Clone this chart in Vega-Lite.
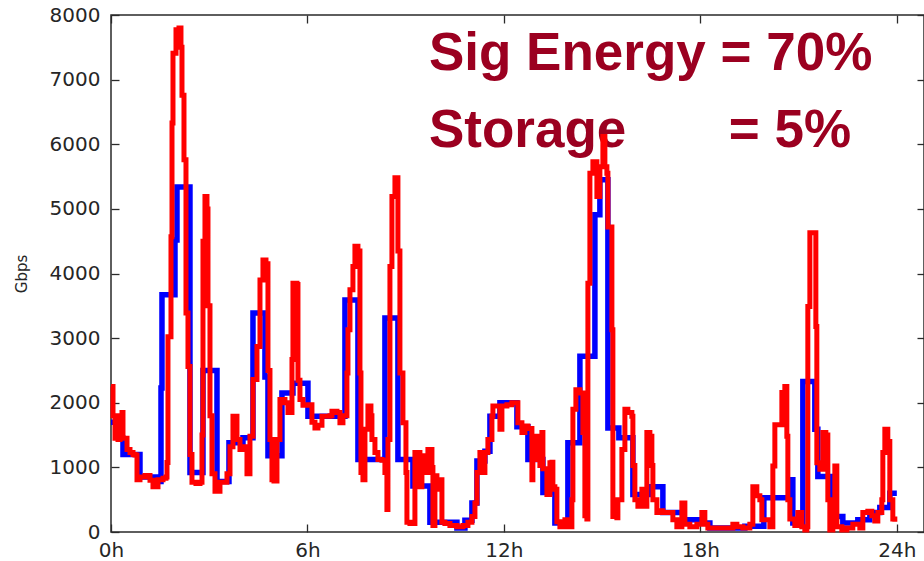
{
  "$schema": "https://vega.github.io/schema/vega-lite/v6.json",
  "width": 813,
  "height": 517,
  "autosize": {"type": "none"},
  "padding": {"left": 111, "top": 15, "right": 0, "bottom": 29},
  "background": "white",
  "config": {
    "view": {"stroke": "#2a2a2a", "strokeWidth": 1.5},
    "axis": {
      "grid": false,
      "domain": false,
      "tickColor": "#2a2a2a",
      "tickWidth": 1.3,
      "labelFont": "DejaVu Sans",
      "labelFontSize": 20,
      "labelColor": "#262626",
      "labelFlush": false,
      "labelOverlap": false,
      "titleFont": "DejaVu Sans",
      "titleFontSize": 15,
      "titleFontWeight": "normal",
      "titleColor": "#262626"
    }
  },
  "datasets": {
    "blue": [
      {"hour": 0, "gbps": 1700}, {"hour": 0.244, "gbps": 1450}, {"hour": 0.366, "gbps": 1200},
      {"hour": 0.885, "gbps": 850}, {"hour": 1.496, "gbps": 780}, {"hour": 1.527, "gbps": 2230},
      {"hour": 1.557, "gbps": 3670}, {"hour": 1.954, "gbps": 4520}, {"hour": 2.015, "gbps": 5340},
      {"hour": 2.412, "gbps": 920}, {"hour": 2.809, "gbps": 2500}, {"hour": 3.237, "gbps": 780},
      {"hour": 3.603, "gbps": 1380}, {"hour": 4.031, "gbps": 1460}, {"hour": 4.336, "gbps": 3390},
      {"hour": 4.702, "gbps": 2400}, {"hour": 4.794, "gbps": 1180}, {"hour": 5.221, "gbps": 2150},
      {"hour": 5.557, "gbps": 2300}, {"hour": 6.015, "gbps": 1790}, {"hour": 7.145, "gbps": 3590},
      {"hour": 7.542, "gbps": 1120}, {"hour": 8.366, "gbps": 3310}, {"hour": 8.763, "gbps": 1120},
      {"hour": 9.221, "gbps": 710}, {"hour": 9.74, "gbps": 150}, {"hour": 10.565, "gbps": 60},
      {"hour": 10.809, "gbps": 180}, {"hour": 11.023, "gbps": 450}, {"hour": 11.176, "gbps": 1100},
      {"hour": 11.42, "gbps": 1250}, {"hour": 11.573, "gbps": 1790}, {"hour": 11.878, "gbps": 2000},
      {"hour": 12.397, "gbps": 1630}, {"hour": 12.733, "gbps": 1120}, {"hour": 13.191, "gbps": 610},
      {"hour": 13.557, "gbps": 140}, {"hour": 13.954, "gbps": 1380}, {"hour": 14.321, "gbps": 2720},
      {"hour": 14.779, "gbps": 4910}, {"hour": 14.931, "gbps": 5450}, {"hour": 15.176, "gbps": 1610},
      {"hour": 15.511, "gbps": 1460}, {"hour": 15.939, "gbps": 580}, {"hour": 16.458, "gbps": 700},
      {"hour": 16.855, "gbps": 300}, {"hour": 17.466, "gbps": 190}, {"hour": 17.985, "gbps": 140},
      {"hour": 18.29, "gbps": 60}, {"hour": 19.359, "gbps": 90}, {"hour": 19.939, "gbps": 530},
      {"hour": 20.733, "gbps": 810}, {"hour": 20.824, "gbps": 140}, {"hour": 21.13, "gbps": 2330},
      {"hour": 21.496, "gbps": 1590}, {"hour": 21.588, "gbps": 860}, {"hour": 22.015, "gbps": 240},
      {"hour": 22.351, "gbps": 140}, {"hour": 22.809, "gbps": 190}, {"hour": 23.176, "gbps": 300},
      {"hour": 23.481, "gbps": 380}, {"hour": 23.786, "gbps": 600}, {"hour": 24.0, "gbps": 600}
    ],
    "red": [
      {"hour": 0, "gbps": 2250}, {"hour": 0.061, "gbps": 1800}, {"hour": 0.122, "gbps": 1450},
      {"hour": 0.183, "gbps": 1800}, {"hour": 0.214, "gbps": 1430}, {"hour": 0.275, "gbps": 1800},
      {"hour": 0.336, "gbps": 1850}, {"hour": 0.366, "gbps": 1450}, {"hour": 0.427, "gbps": 1450},
      {"hour": 0.489, "gbps": 1275}, {"hour": 0.58, "gbps": 1230}, {"hour": 0.672, "gbps": 1200},
      {"hour": 0.733, "gbps": 1190}, {"hour": 0.794, "gbps": 810}, {"hour": 0.885, "gbps": 850},
      {"hour": 1.038, "gbps": 875}, {"hour": 1.191, "gbps": 800}, {"hour": 1.282, "gbps": 700},
      {"hour": 1.435, "gbps": 810}, {"hour": 1.588, "gbps": 830}, {"hour": 1.679, "gbps": 850},
      {"hour": 1.71, "gbps": 1075}, {"hour": 1.74, "gbps": 3020}, {"hour": 1.832, "gbps": 4570},
      {"hour": 1.863, "gbps": 6330}, {"hour": 1.893, "gbps": 7410}, {"hour": 1.985, "gbps": 7770},
      {"hour": 2.076, "gbps": 7800}, {"hour": 2.137, "gbps": 7500}, {"hour": 2.168, "gbps": 6760},
      {"hour": 2.229, "gbps": 5760}, {"hour": 2.29, "gbps": 3390}, {"hour": 2.351, "gbps": 2560},
      {"hour": 2.412, "gbps": 1200}, {"hour": 2.473, "gbps": 770}, {"hour": 2.595, "gbps": 750},
      {"hour": 2.718, "gbps": 770}, {"hour": 2.779, "gbps": 1500}, {"hour": 2.809, "gbps": 4500},
      {"hour": 2.87, "gbps": 5190}, {"hour": 2.931, "gbps": 5000}, {"hour": 2.962, "gbps": 3500},
      {"hour": 3.023, "gbps": 1800}, {"hour": 3.084, "gbps": 900}, {"hour": 3.176, "gbps": 630},
      {"hour": 3.328, "gbps": 770}, {"hour": 3.542, "gbps": 900}, {"hour": 3.634, "gbps": 1320},
      {"hour": 3.725, "gbps": 1790}, {"hour": 3.847, "gbps": 1430}, {"hour": 3.939, "gbps": 1275},
      {"hour": 4.031, "gbps": 1320}, {"hour": 4.153, "gbps": 900}, {"hour": 4.244, "gbps": 1480},
      {"hour": 4.336, "gbps": 2360}, {"hour": 4.458, "gbps": 2870}, {"hour": 4.55, "gbps": 3900},
      {"hour": 4.641, "gbps": 4210}, {"hour": 4.733, "gbps": 4150}, {"hour": 4.794, "gbps": 2500},
      {"hour": 4.855, "gbps": 1430}, {"hour": 4.916, "gbps": 810}, {"hour": 4.977, "gbps": 790},
      {"hour": 5.069, "gbps": 1430}, {"hour": 5.16, "gbps": 2050}, {"hour": 5.313, "gbps": 2000},
      {"hour": 5.405, "gbps": 1850}, {"hour": 5.527, "gbps": 2670}, {"hour": 5.557, "gbps": 3850},
      {"hour": 5.679, "gbps": 3830}, {"hour": 5.71, "gbps": 2350}, {"hour": 5.771, "gbps": 2050},
      {"hour": 5.863, "gbps": 1960}, {"hour": 6.015, "gbps": 1970}, {"hour": 6.076, "gbps": 1970},
      {"hour": 6.137, "gbps": 1700}, {"hour": 6.229, "gbps": 1610}, {"hour": 6.321, "gbps": 1650},
      {"hour": 6.443, "gbps": 1790}, {"hour": 6.687, "gbps": 1800}, {"hour": 6.748, "gbps": 1870},
      {"hour": 6.901, "gbps": 1850}, {"hour": 6.992, "gbps": 1690}, {"hour": 7.084, "gbps": 1800},
      {"hour": 7.206, "gbps": 2460}, {"hour": 7.237, "gbps": 3130}, {"hour": 7.298, "gbps": 3750},
      {"hour": 7.389, "gbps": 4110}, {"hour": 7.45, "gbps": 4420}, {"hour": 7.542, "gbps": 4350},
      {"hour": 7.603, "gbps": 2460}, {"hour": 7.634, "gbps": 920}, {"hour": 7.695, "gbps": 810},
      {"hour": 7.756, "gbps": 1590}, {"hour": 7.847, "gbps": 1950}, {"hour": 7.939, "gbps": 1800},
      {"hour": 7.969, "gbps": 1430}, {"hour": 8.061, "gbps": 1230}, {"hour": 8.153, "gbps": 1120},
      {"hour": 8.275, "gbps": 1110}, {"hour": 8.366, "gbps": 920}, {"hour": 8.427, "gbps": 350},
      {"hour": 8.458, "gbps": 1430}, {"hour": 8.519, "gbps": 4110}, {"hour": 8.58, "gbps": 5190},
      {"hour": 8.672, "gbps": 5480}, {"hour": 8.763, "gbps": 4350}, {"hour": 8.824, "gbps": 2460},
      {"hour": 8.916, "gbps": 1690}, {"hour": 9.008, "gbps": 920}, {"hour": 9.038, "gbps": 150},
      {"hour": 9.13, "gbps": 130}, {"hour": 9.221, "gbps": 130}, {"hour": 9.282, "gbps": 1230},
      {"hour": 9.374, "gbps": 1230}, {"hour": 9.435, "gbps": 700}, {"hour": 9.496, "gbps": 1180},
      {"hour": 9.588, "gbps": 920}, {"hour": 9.679, "gbps": 1275}, {"hour": 9.802, "gbps": 1000},
      {"hour": 9.832, "gbps": 100}, {"hour": 9.893, "gbps": 870}, {"hour": 9.954, "gbps": 660},
      {"hour": 10.046, "gbps": 810}, {"hour": 10.107, "gbps": 150}, {"hour": 10.198, "gbps": 130},
      {"hour": 10.351, "gbps": 100}, {"hour": 10.565, "gbps": 80}, {"hour": 10.748, "gbps": 100},
      {"hour": 10.901, "gbps": 150}, {"hour": 11.023, "gbps": 240}, {"hour": 11.115, "gbps": 450},
      {"hour": 11.176, "gbps": 920}, {"hour": 11.267, "gbps": 1230}, {"hour": 11.359, "gbps": 920},
      {"hour": 11.42, "gbps": 1230}, {"hour": 11.511, "gbps": 1430}, {"hour": 11.634, "gbps": 1790},
      {"hour": 11.664, "gbps": 1950}, {"hour": 11.786, "gbps": 1950}, {"hour": 11.878, "gbps": 1590},
      {"hour": 11.939, "gbps": 1950}, {"hour": 12.092, "gbps": 1970}, {"hour": 12.244, "gbps": 2000},
      {"hour": 12.397, "gbps": 2000}, {"hour": 12.427, "gbps": 1690}, {"hour": 12.55, "gbps": 1540},
      {"hour": 12.641, "gbps": 1640}, {"hour": 12.733, "gbps": 1600}, {"hour": 12.855, "gbps": 810},
      {"hour": 12.885, "gbps": 1120}, {"hour": 13.008, "gbps": 1480}, {"hour": 13.099, "gbps": 1030},
      {"hour": 13.16, "gbps": 1540}, {"hour": 13.191, "gbps": 980}, {"hour": 13.313, "gbps": 580},
      {"hour": 13.405, "gbps": 1070}, {"hour": 13.466, "gbps": 1080}, {"hour": 13.496, "gbps": 700},
      {"hour": 13.557, "gbps": 660}, {"hour": 13.618, "gbps": 160}, {"hour": 13.71, "gbps": 80},
      {"hour": 13.863, "gbps": 190}, {"hour": 13.954, "gbps": 80}, {"hour": 14.076, "gbps": 500},
      {"hour": 14.107, "gbps": 1900}, {"hour": 14.198, "gbps": 2200}, {"hour": 14.321, "gbps": 2150},
      {"hour": 14.412, "gbps": 1540}, {"hour": 14.473, "gbps": 250}, {"hour": 14.534, "gbps": 200},
      {"hour": 14.565, "gbps": 3850}, {"hour": 14.626, "gbps": 5550}, {"hour": 14.718, "gbps": 5730},
      {"hour": 14.84, "gbps": 5190}, {"hour": 14.931, "gbps": 5650}, {"hour": 15.023, "gbps": 6120},
      {"hour": 15.084, "gbps": 5650}, {"hour": 15.145, "gbps": 5550}, {"hour": 15.176, "gbps": 4720},
      {"hour": 15.298, "gbps": 3130}, {"hour": 15.328, "gbps": 240}, {"hour": 15.45, "gbps": 220},
      {"hour": 15.481, "gbps": 500}, {"hour": 15.603, "gbps": 1275}, {"hour": 15.695, "gbps": 1900},
      {"hour": 15.786, "gbps": 1850}, {"hour": 15.908, "gbps": 1790}, {"hour": 15.939, "gbps": 1030},
      {"hour": 16.0, "gbps": 500}, {"hour": 16.092, "gbps": 400}, {"hour": 16.214, "gbps": 660},
      {"hour": 16.244, "gbps": 400}, {"hour": 16.366, "gbps": 1540}, {"hour": 16.458, "gbps": 1480},
      {"hour": 16.519, "gbps": 1030}, {"hour": 16.55, "gbps": 500}, {"hour": 16.672, "gbps": 300},
      {"hour": 16.763, "gbps": 330}, {"hour": 16.855, "gbps": 300}, {"hour": 17.008, "gbps": 300},
      {"hour": 17.16, "gbps": 190}, {"hour": 17.282, "gbps": 80}, {"hour": 17.435, "gbps": 450},
      {"hour": 17.527, "gbps": 120}, {"hour": 17.679, "gbps": 80}, {"hour": 17.893, "gbps": 120},
      {"hour": 18.046, "gbps": 300}, {"hour": 18.137, "gbps": 120}, {"hour": 18.229, "gbps": 60},
      {"hour": 18.443, "gbps": 60}, {"hour": 18.748, "gbps": 60}, {"hour": 18.992, "gbps": 120},
      {"hour": 19.115, "gbps": 80}, {"hour": 19.298, "gbps": 60}, {"hour": 19.511, "gbps": 120},
      {"hour": 19.603, "gbps": 700}, {"hour": 19.725, "gbps": 560}, {"hour": 19.817, "gbps": 500},
      {"hour": 19.878, "gbps": 190}, {"hour": 20.031, "gbps": 190}, {"hour": 20.122, "gbps": 80},
      {"hour": 20.214, "gbps": 1020}, {"hour": 20.275, "gbps": 1660}, {"hour": 20.366, "gbps": 1660},
      {"hour": 20.489, "gbps": 2160}, {"hour": 20.58, "gbps": 2250}, {"hour": 20.641, "gbps": 1480},
      {"hour": 20.672, "gbps": 500}, {"hour": 20.733, "gbps": 200}, {"hour": 20.885, "gbps": 100},
      {"hour": 20.977, "gbps": 300}, {"hour": 21.099, "gbps": 80}, {"hour": 21.191, "gbps": 30},
      {"hour": 21.252, "gbps": 80}, {"hour": 21.282, "gbps": 3490}, {"hour": 21.344, "gbps": 4630},
      {"hour": 21.435, "gbps": 4630}, {"hour": 21.527, "gbps": 3180}, {"hour": 21.557, "gbps": 1070},
      {"hour": 21.649, "gbps": 970}, {"hour": 21.74, "gbps": 1540}, {"hour": 21.832, "gbps": 1500},
      {"hour": 21.893, "gbps": 500}, {"hour": 21.954, "gbps": 30}, {"hour": 22.046, "gbps": 190},
      {"hour": 22.107, "gbps": 1020}, {"hour": 22.168, "gbps": 80}, {"hour": 22.321, "gbps": 30},
      {"hour": 22.473, "gbps": 60}, {"hour": 22.656, "gbps": 120}, {"hour": 22.87, "gbps": 60},
      {"hour": 22.962, "gbps": 300}, {"hour": 23.115, "gbps": 320}, {"hour": 23.237, "gbps": 250},
      {"hour": 23.328, "gbps": 170}, {"hour": 23.42, "gbps": 300}, {"hour": 23.542, "gbps": 500},
      {"hour": 23.573, "gbps": 1230}, {"hour": 23.634, "gbps": 1590}, {"hour": 23.725, "gbps": 1400},
      {"hour": 23.786, "gbps": 500}, {"hour": 23.878, "gbps": 200}, {"hour": 23.939, "gbps": 160}
    ]
  },
  "layer": [
    {
      "data": {"name": "blue"},
      "mark": {"type": "line", "interpolate": "step-after", "color": "#0000FF", "strokeWidth": 5.5},
      "encoding": {
        "x": {
          "field": "hour", "type": "quantitative",
          "scale": {"domain": [0, 24.83], "nice": false, "zero": false},
          "axis": {"orient": "bottom", "values": [0, 6, 12, 18, 24], "labelExpr": "datum.value + 'h'", "title": null, "tickSize": -8, "labelPadding": 16}
        },
        "y": {
          "field": "gbps", "type": "quantitative",
          "scale": {"domain": [0, 8000], "nice": false},
          "axis": {"orient": "left", "values": [0, 1000, 2000, 3000, 4000, 5000, 6000, 7000, 8000], "format": "d", "title": "Gbps", "titlePadding": 20, "tickSize": -8, "labelPadding": 19}
        }
      }
    },
    {
      "data": {"values": [{}]},
      "mark": {"type": "text", "text": "Sig Energy = 70%", "align": "left", "baseline": "alphabetic", "font": "Liberation Sans", "fontWeight": "bold", "fontSize": 53, "color": "#9B0020"},
      "encoding": {
        "x": {"datum": 9.71, "type": "quantitative", "axis": null},
        "y": {"datum": 7149, "type": "quantitative", "axis": null}
      }
    },
    {
      "data": {"values": [{}]},
      "mark": {"type": "text", "text": "Storage", "align": "left", "baseline": "alphabetic", "font": "Liberation Sans", "fontWeight": "bold", "fontSize": 53, "color": "#9B0020"},
      "encoding": {
        "x": {"datum": 9.71, "type": "quantitative", "axis": null},
        "y": {"datum": 5962, "type": "quantitative", "axis": null}
      }
    },
    {
      "data": {"values": [{}]},
      "mark": {"type": "text", "text": "= 5%", "align": "left", "baseline": "alphabetic", "font": "Liberation Sans", "fontWeight": "bold", "fontSize": 53, "color": "#9B0020"},
      "encoding": {
        "x": {"datum": 18.87, "type": "quantitative", "axis": null},
        "y": {"datum": 5962, "type": "quantitative", "axis": null}
      }
    },
    {
      "data": {"name": "red"},
      "mark": {"type": "line", "interpolate": "step-after", "color": "#FF0000", "strokeWidth": 5},
      "encoding": {
        "x": {
          "field": "hour", "type": "quantitative",
          "axis": {"orient": "top", "values": [0, 6, 12, 18, 24], "labels": false, "title": null, "tickSize": -8}
        },
        "y": {
          "field": "gbps", "type": "quantitative",
          "axis": {"orient": "right", "values": [0, 1000, 2000, 3000, 4000, 5000, 6000, 7000, 8000], "labels": false, "title": null, "tickSize": -7}
        }
      }
    }
  ]
}
